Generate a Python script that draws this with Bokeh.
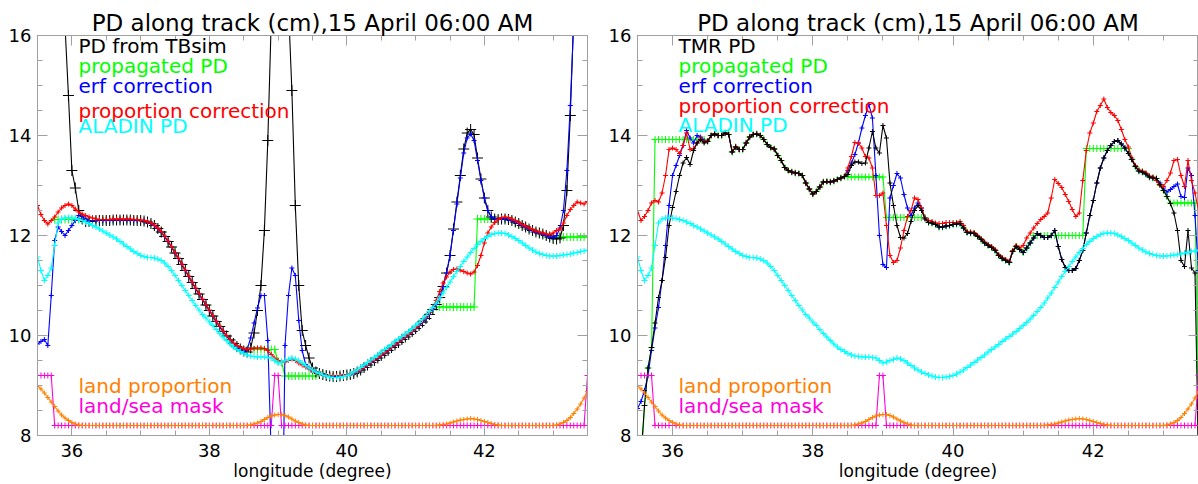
from bokeh.plotting import figure
from bokeh.models import Range1d, LinearAxis, FixedTicker, Label
from bokeh.layouts import row
from bokeh.embed import file_html
from bokeh.resources import INLINE

nan = float("nan")
# longitude samples (degree)
lon = [round(35.5 + 0.05 * i, 2) for i in range(161)]

x_ticks = [36, 38, 40, 42]
x_minor = [35.5, 36.0, 36.5, 37.0, 37.5, 38.0, 38.5, 39.0, 39.5, 40.0, 40.5, 41.0, 41.5, 42.0, 42.5, 43.0, 43.5]
y_ticks = [8, 10, 12, 14, 16]
y_minor = [8.0, 8.5, 9.0, 9.5, 10.0, 10.5, 11.0, 11.5, 12.0, 12.5, 13.0, 13.5, 14.0, 14.5, 15.0, 15.5, 16.0]

title_text = "PD along track (cm),15 April 06:00 AM"
xlabel_text = "longitude (degree)"

# ---- shared series ----
aladin_pd = [
    11.57, 11.30, 11.10, 11.20, 11.35, 11.80, 12.25, 12.33, 12.35, 12.36,
    12.35, 12.34, 12.32, 12.30, 12.27, 12.24, 12.20, 12.17, 12.13, 12.09,
    12.05, 12.01, 11.97, 11.93, 11.88, 11.83, 11.78, 11.73, 11.68, 11.64,
    11.60, 11.58, 11.56, 11.56, 11.55, 11.53, 11.50, 11.45, 11.38, 11.30,
    11.20, 11.10, 11.00, 10.90, 10.80, 10.70, 10.60, 10.51, 10.42, 10.35,
    10.27, 10.20, 10.12, 10.04, 9.97, 9.90, 9.83, 9.77, 9.72, 9.68,
    9.64, 9.61, 9.59, 9.58, 9.57, 9.57, 9.57, 9.56, 9.55, 9.50,
    9.45, 9.47, 9.50, 9.52, 9.55, 9.53, 9.50, 9.45, 9.40, 9.35,
    9.31, 9.27, 9.24, 9.21, 9.19, 9.17, 9.16, 9.16, 9.17, 9.18,
    9.20, 9.23, 9.27, 9.31, 9.36, 9.41, 9.46, 9.51, 9.56, 9.61,
    9.67, 9.72, 9.77, 9.82, 9.88, 9.93, 9.98, 10.03, 10.08, 10.14,
    10.20, 10.26, 10.33, 10.40, 10.48, 10.56, 10.65, 10.75, 10.85, 10.96,
    11.07, 11.18, 11.28, 11.38, 11.48, 11.57, 11.66, 11.74, 11.82, 11.88,
    11.94, 11.98, 12.02, 12.04, 12.05, 12.05, 12.04, 12.01, 11.98, 11.94,
    11.90, 11.85, 11.80, 11.75, 11.71, 11.67, 11.64, 11.62, 11.60, 11.59,
    11.59, 11.59, 11.60, 11.61, 11.62, 11.63, 11.65, 11.66, 11.68, 11.69,
    11.71]

land_proportion = [
    9.00, 8.93, 8.85, 8.76, 8.67, 8.58, 8.49, 8.41, 8.35, 8.30,
    8.26, 8.23, 8.21, 8.20, 8.20, 8.20, 8.20, 8.20, 8.20, 8.20,
    8.20, 8.20, 8.20, 8.20, 8.20, 8.20, 8.20, 8.20, 8.20, 8.20,
    8.20, 8.20, 8.20, 8.20, 8.20, 8.20, 8.20, 8.20, 8.20, 8.20,
    8.20, 8.20, 8.20, 8.20, 8.20, 8.20, 8.20, 8.20, 8.20, 8.20,
    8.20, 8.20, 8.20, 8.20, 8.20, 8.20, 8.20, 8.20, 8.20, 8.20,
    8.20, 8.20, 8.21, 8.23, 8.25, 8.28, 8.32, 8.36, 8.39, 8.41,
    8.42, 8.42, 8.40, 8.37, 8.33, 8.29, 8.26, 8.23, 8.21, 8.20,
    8.20, 8.20, 8.20, 8.20, 8.20, 8.20, 8.20, 8.20, 8.20, 8.20,
    8.20, 8.20, 8.20, 8.20, 8.20, 8.20, 8.20, 8.20, 8.20, 8.20,
    8.20, 8.20, 8.20, 8.20, 8.20, 8.20, 8.20, 8.20, 8.20, 8.20,
    8.20, 8.20, 8.20, 8.20, 8.20, 8.20, 8.20, 8.21, 8.22, 8.23,
    8.25, 8.27, 8.29, 8.31, 8.32, 8.33, 8.34, 8.33, 8.32, 8.30,
    8.28, 8.26, 8.24, 8.22, 8.21, 8.20, 8.20, 8.20, 8.20, 8.20,
    8.20, 8.20, 8.20, 8.20, 8.20, 8.20, 8.20, 8.20, 8.20, 8.20,
    8.20, 8.21, 8.23, 8.26, 8.30, 8.36, 8.44, 8.53, 8.63, 8.75,
    8.88]

land_sea_mask = [
    9.2, 9.2, 9.2, 9.2, 9.2, 8.2, 8.2, 8.2, 8.2, 8.2,
    8.2, 8.2, 8.2, 8.2, 8.2, 8.2, 8.2, 8.2, 8.2, 8.2,
    8.2, 8.2, 8.2, 8.2, 8.2, 8.2, 8.2, 8.2, 8.2, 8.2,
    8.2, 8.2, 8.2, 8.2, 8.2, 8.2, 8.2, 8.2, 8.2, 8.2,
    8.2, 8.2, 8.2, 8.2, 8.2, 8.2, 8.2, 8.2, 8.2, 8.2,
    8.2, 8.2, 8.2, 8.2, 8.2, 8.2, 8.2, 8.2, 8.2, 8.2,
    8.2, 8.2, 8.2, 8.2, 8.2, 8.2, 8.2, 8.2, 8.2, 9.2,
    9.2, 8.2, 8.2, 8.2, 8.2, 8.2, 8.2, 8.2, 8.2, 8.2,
    8.2, 8.2, 8.2, 8.2, 8.2, 8.2, 8.2, 8.2, 8.2, 8.2,
    8.2, 8.2, 8.2, 8.2, 8.2, 8.2, 8.2, 8.2, 8.2, 8.2,
    8.2, 8.2, 8.2, 8.2, 8.2, 8.2, 8.2, 8.2, 8.2, 8.2,
    8.2, 8.2, 8.2, 8.2, 8.2, 8.2, 8.2, 8.2, 8.2, 8.2,
    8.2, 8.2, 8.2, 8.2, 8.2, 8.2, 8.2, 8.2, 8.2, 8.2,
    8.2, 8.2, 8.2, 8.2, 8.2, 8.2, 8.2, 8.2, 8.2, 8.2,
    8.2, 8.2, 8.2, 8.2, 8.2, 8.2, 8.2, 8.2, 8.2, 8.2,
    8.2, 8.2, 8.2, 8.2, 8.2, 8.2, 8.2, 8.2, 8.2, 8.2,
    9.2]

# ---- left panel ----
pd_tbsim = [
    30.0, 28.0, 26.0, 24.0, 22.0, 20.0, 18.8, 17.4, 16.2, 14.8,
    13.3, 12.95, 12.5, 12.33, 12.28, 12.28, 12.29, 12.3, 12.3, 12.3,
    12.3, 12.3, 12.31, 12.31, 12.31, 12.31, 12.31, 12.31, 12.3, 12.3,
    12.3, 12.29, 12.27, 12.24, 12.2, 12.14, 12.07, 11.98, 11.88, 11.77,
    11.65, 11.54, 11.42, 11.3, 11.18, 11.06, 10.94, 10.83, 10.72, 10.61,
    10.5, 10.39, 10.28, 10.18, 10.08, 9.99, 9.91, 9.84, 9.78, 9.73,
    9.69, 9.67, 9.75, 10.05, 10.5, 11.0, 12.1, 13.9, 16.3, 18.7,
    21.0, 21.0, 18.5, 16.6, 14.9, 12.6, 11.0, 10.1, 9.8, 9.55,
    9.35, 9.27, 9.24, 9.22, 9.2, 9.19, 9.18, 9.18, 9.19, 9.2,
    9.21, 9.22, 9.24, 9.27, 9.31, 9.36, 9.41, 9.46, 9.5, 9.55,
    9.6, 9.65, 9.7, 9.76, 9.81, 9.86, 9.92, 9.97, 10.02, 10.08,
    10.14, 10.2, 10.27, 10.34, 10.42, 10.52, 10.62, 10.76, 10.98, 11.25,
    11.6, 12.13, 12.67, 13.2, 13.73, 14.05, 14.12, 14.02, 13.55, 13.13,
    12.75, 12.5, 12.37, 12.33, 12.32, 12.33, 12.33, 12.32, 12.3, 12.27,
    12.24, 12.2, 12.17, 12.13, 12.1, 12.07, 12.05, 12.03, 12.0, 11.97,
    11.94, 11.93, 11.95, 12.2, 12.9, 14.4, 16.4, 19.0, 22.0, 25.0,
    28.0]

prop_left = [
    nan, nan, nan, nan, nan, 12.32, 12.32, 12.32, 12.32, 12.32,
    12.32, 12.32, 12.32, 12.32, 12.28, 12.28, 12.29, 12.3, 12.3, 12.3,
    12.3, 12.3, 12.31, 12.31, 12.31, 12.31, 12.31, 12.31, 12.3, 12.3,
    12.3, 12.29, 12.27, 12.24, 12.2, 12.14, 12.07, 11.98, 11.88, 11.77,
    11.65, 11.54, 11.42, 11.3, 11.18, 11.06, 10.94, 10.83, 10.72, 10.61,
    10.5, 10.39, 10.28, 10.18, 10.08, 9.99, 9.91, 9.84, 9.78, 9.73,
    9.69, 9.72, 9.72, 9.72, 9.72, 9.72, 9.72, 9.72, 9.72, 9.72,
    9.48, 9.46, 9.19, 9.19, 9.19, 9.19, 9.19, 9.19, 9.19, 9.19,
    9.19, 9.19, 9.24, 9.22, 9.2, 9.19, 9.18, 9.18, 9.19, 9.2,
    9.21, 9.22, 9.24, 9.27, 9.31, 9.36, 9.41, 9.46, 9.5, 9.55,
    9.6, 9.65, 9.7, 9.76, 9.81, 9.86, 9.92, 9.97, 10.02, 10.08,
    10.14, 10.2, 10.27, 10.34, 10.42, 10.52, 10.57, 10.57, 10.57, 10.57,
    10.57, 10.57, 10.57, 10.57, 10.57, 10.57, 10.57, 10.57, 12.33, 12.33,
    12.33, 12.33, 12.33, 12.33, 12.32, 12.33, 12.33, 12.32, 12.3, 12.27,
    12.24, 12.2, 12.17, 12.13, 12.1, 12.07, 12.05, 12.03, 12.0, 11.97,
    11.94, 11.97, 11.97, 11.97, 11.97, 11.97, 11.97, 11.97, 11.97, 11.97,
    11.97]

erf_left = [
    9.83, 9.88, 9.92, 9.8, 10.8, 11.9, 12.17, 12.08, 12.0, 12.1,
    12.2, 12.3, 12.4, 12.38, 12.33, 12.3, 12.3, 12.3, 12.3, 12.3,
    12.3, 12.3, 12.31, 12.31, 12.31, 12.31, 12.31, 12.31, 12.3, 12.3,
    12.3, 12.29, 12.27, 12.24, 12.2, 12.14, 12.07, 11.98, 11.88, 11.77,
    11.65, 11.54, 11.42, 11.3, 11.18, 11.06, 10.94, 10.83, 10.72, 10.61,
    10.5, 10.39, 10.28, 10.18, 10.08, 9.99, 9.91, 9.84, 9.78, 9.73,
    9.69, 9.72, 9.95, 10.25, 10.55, 10.8, 10.8, 9.9, 7.6, 4.0,
    3.0, 4.5, 9.8, 10.8, 11.35, 11.2, 10.3, 9.7, 9.42, 9.35,
    9.3, 9.27, 9.24, 9.22, 9.2, 9.19, 9.18, 9.18, 9.19, 9.2,
    9.21, 9.22, 9.24, 9.27, 9.31, 9.36, 9.41, 9.46, 9.5, 9.55,
    9.6, 9.65, 9.7, 9.76, 9.81, 9.86, 9.92, 9.97, 10.02, 10.08,
    10.14, 10.2, 10.27, 10.34, 10.42, 10.52, 10.62, 10.76, 10.98, 11.25,
    11.6, 12.1, 12.63, 13.15, 13.65, 13.95, 14.03, 13.9, 13.5, 13.1,
    12.75, 12.5, 12.37, 12.33, 12.32, 12.33, 12.33, 12.32, 12.3, 12.27,
    12.24, 12.2, 12.17, 12.13, 12.1, 12.07, 12.05, 12.03, 12.0, 11.97,
    11.96, 12.0, 12.15, 12.5, 13.3, 14.6, 16.3, 18.5, 21.0, 23.5,
    26.0]

propcorr_left = [
    12.6, 12.42, 12.3, 12.23, 12.3, 12.37, 12.47, 12.55, 12.6, 12.63,
    12.6, 12.53, 12.47, 12.43, 12.4, 12.37, 12.35, 12.33, 12.32, 12.32,
    12.32, 12.32, 12.33, 12.33, 12.33, 12.33, 12.33, 12.33, 12.32, 12.32,
    12.31, 12.3, 12.28, 12.25, 12.21, 12.15, 12.08, 11.99, 11.89, 11.78,
    11.66, 11.55, 11.43, 11.31, 11.19, 11.07, 10.95, 10.84, 10.73, 10.62,
    10.51, 10.4, 10.29, 10.19, 10.09, 10.0, 9.92, 9.85, 9.8, 9.76,
    9.73, 9.72, 9.73, 9.74, 9.75, 9.75, 9.74, 9.7, 9.62, 9.55,
    9.5, 9.48, 9.47, 9.5, 9.53, 9.5, 9.45, 9.41, 9.37, 9.33,
    9.29, 9.26, 9.23, 9.21, 9.2, 9.2, 9.2, 9.2, 9.2, 9.21,
    9.22, 9.23, 9.25, 9.28, 9.32, 9.37, 9.42, 9.47, 9.51, 9.56,
    9.61, 9.66, 9.71, 9.77, 9.82, 9.87, 9.93, 9.98, 10.03, 10.09,
    10.15, 10.21, 10.29, 10.37, 10.46, 10.56, 10.7, 10.88, 11.05, 11.17,
    11.27, 11.32, 11.33, 11.31, 11.28, 11.25, 11.23, 11.27, 11.4, 11.6,
    11.85, 12.05, 12.17, 12.26, 12.32, 12.36, 12.37, 12.36, 12.33, 12.3,
    12.26, 12.22, 12.19, 12.15, 12.12, 12.09, 12.07, 12.05, 12.03, 12.02,
    12.05, 12.1, 12.13, 12.25, 12.4, 12.52, 12.6, 12.67, 12.65, 12.63,
    12.68]

# ---- right panel ----
pd_tmr = [
    6.5, 7.6, 8.6, 9.35, 9.76, 10.25, 10.76, 11.1, 11.56, 12.2,
    12.56, 12.88, 13.2, 13.45, 13.56, 13.42, 13.7, 13.85, 13.92, 13.85,
    13.88, 14.0, 14.03, 14.0, 14.0, 14.05, 14.02, 13.67, 13.77, 13.72,
    13.72, 13.85, 13.97, 14.02, 14.03, 14.0, 13.92, 13.82, 13.76, 13.73,
    13.6, 13.5, 13.36, 13.3, 13.27, 13.25, 13.24, 13.2, 13.05, 12.93,
    12.83, 12.88, 12.97, 13.07, 13.08, 13.07, 13.09, 13.12, 13.15, 13.18,
    13.22, 13.4, 13.47, 13.47, 13.44, 13.45, 13.75, 14.08, 13.75, 13.65,
    14.2, 13.95, 13.05, 12.6, 12.2, 11.96, 11.95, 12.04, 12.28, 12.5,
    12.6, 12.5, 12.33, 12.26, 12.25, 12.22, 12.17, 12.17, 12.19, 12.2,
    12.22, 12.23, 12.24, 12.15, 12.06, 12.05, 12.04, 11.98, 11.92, 11.85,
    11.8, 11.76, 11.7, 11.6, 11.54, 11.5, 11.46, 11.68, 11.78, 11.72,
    11.66, 11.75, 11.85, 11.95, 12.04, 12.0, 11.96, 11.96, 12.0, 12.1,
    11.78, 11.52, 11.36, 11.3, 11.3, 11.34, 11.5, 11.7, 12.05, 12.4,
    12.7, 13.05, 13.35, 13.55, 13.7, 13.8, 13.88, 13.9, 13.83, 13.75,
    13.64, 13.52, 13.38, 13.29, 13.27, 13.23, 13.17, 13.15, 13.14, 13.02,
    12.9, 12.78, 12.64, 12.45, 12.1, 11.5, 11.38, 12.1, 11.35, 11.25,
    7.5]

prop_right = [
    5.5, 7.3, 8.6, 9.35, 9.76, 13.92, 13.92, 13.92, 13.92, 13.92,
    13.92, 13.92, 13.92, 13.92, 13.92, 13.92, 13.92, 13.92, 13.92, 13.92,
    13.88, 14.0, 14.03, 14.0, 14.0, 14.05, 14.02, 13.67, 13.77, 13.72,
    13.72, 13.85, 13.97, 14.02, 14.03, 14.0, 13.92, 13.82, 13.76, 13.73,
    13.6, 13.5, 13.36, 13.3, 13.27, 13.25, 13.24, 13.2, 13.05, 12.93,
    12.83, 12.88, 12.97, 13.07, 13.08, 13.07, 13.09, 13.12, 13.15, 13.18,
    13.17, 13.17, 13.17, 13.17, 13.17, 13.17, 13.17, 13.17, 13.17, 13.17,
    13.17, 12.36, 12.36, 12.36, 12.36, 12.36, 12.36, 12.36, 12.36, 12.36,
    12.36, 12.36, 12.36, 12.26, 12.25, 12.22, 12.17, 12.17, 12.19, 12.2,
    12.22, 12.23, 12.24, 12.15, 12.06, 12.05, 12.04, 11.98, 11.92, 11.85,
    11.8, 11.76, 11.7, 11.6, 11.54, 11.5, 11.46, 11.68, 11.78, 11.72,
    11.66, 11.75, 11.85, 12.0, 12.0, 12.0, 12.0, 12.0, 12.0, 12.0,
    12.0, 12.0, 12.0, 12.0, 12.0, 12.0, 12.0, 12.0, 13.74, 13.74,
    13.74, 13.74, 13.74, 13.74, 13.74, 13.74, 13.74, 13.74, 13.74, 13.74,
    13.74, 13.52, 13.38, 13.29, 13.27, 13.23, 13.17, 13.15, 13.14, 13.02,
    12.9, 12.78, 12.65, 12.65, 12.65, 12.65, 12.65, 12.65, 12.65, 12.65,
    8.5]

erf_right = [
    8.54, 8.68, 8.9, 9.2, 9.7, 10.15, 10.56, 11.1, 11.8, 12.6,
    13.2, 13.4, 13.6, 13.8, 14.1, 13.95, 13.85, 14.0, 13.97, 13.9,
    13.88, 14.0, 14.03, 14.0, 14.0, 14.05, 14.02, 13.67, 13.77, 13.72,
    13.72, 13.85, 13.97, 14.02, 14.03, 14.0, 13.92, 13.82, 13.76, 13.73,
    13.6, 13.5, 13.36, 13.3, 13.27, 13.25, 13.24, 13.2, 13.05, 12.93,
    12.83, 12.88, 12.97, 13.07, 13.08, 13.07, 13.09, 13.12, 13.15, 13.18,
    13.3, 13.45, 13.62, 13.85, 14.15, 14.4, 14.62, 14.35, 13.2, 12.0,
    11.42, 11.36, 12.75, 13.0, 13.24, 13.15, 12.82, 12.55, 12.4, 12.55,
    12.65, 12.55, 12.35, 12.26, 12.25, 12.22, 12.17, 12.17, 12.19, 12.2,
    12.22, 12.23, 12.24, 12.15, 12.06, 12.05, 12.04, 11.98, 11.92, 11.85,
    11.8, 11.76, 11.7, 11.6, 11.54, 11.5, 11.46, 11.68, 11.78, 11.72,
    11.66, 11.75, 11.85, 11.95, 12.04, 12.0, 11.96, 11.96, 12.0, 12.1,
    11.78, 11.52, 11.36, 11.3, 11.3, 11.34, 11.5, 11.7, 12.05, 12.4,
    12.7, 13.05, 13.35, 13.55, 13.7, 13.8, 13.88, 13.9, 13.83, 13.75,
    13.64, 13.52, 13.38, 13.29, 13.27, 13.23, 13.17, 13.15, 13.14, 13.05,
    12.95, 12.87, 12.92, 12.98, 13.03, 12.78, 12.76, 13.35, 13.2, 12.4,
    11.3]

propcorr_right = [
    12.5, 12.3, 12.38, 12.5, 12.65, 12.7, 12.67, 12.85, 13.2, 13.72,
    13.75, 13.72, 13.64, 13.8, 14.05, 13.72, 13.74, 13.85, 13.95, 13.87,
    13.9, 14.0, 14.03, 14.0, 14.0, 14.05, 14.02, 13.68, 13.78, 13.72,
    13.72, 13.85, 13.97, 14.02, 14.03, 14.0, 13.92, 13.82, 13.76, 13.73,
    13.6, 13.5, 13.36, 13.3, 13.27, 13.25, 13.24, 13.2, 13.05, 12.93,
    12.83, 12.88, 12.97, 13.07, 13.08, 13.07, 13.09, 13.12, 13.15, 13.18,
    13.35, 13.58, 13.86, 13.85, 13.75, 13.58, 13.55, 13.35, 12.8, 12.8,
    12.85, 12.2, 11.6, 11.46, 11.5, 11.75, 12.1, 12.38, 12.5, 12.75,
    12.72, 12.55, 12.35, 12.3, 12.28, 12.25, 12.24, 12.24, 12.26, 12.26,
    12.26, 12.26, 12.28, 12.2, 12.08, 12.07, 12.06, 12.0, 11.94, 11.87,
    11.82, 11.78, 11.72, 11.62, 11.56, 11.52, 11.48, 11.7, 11.8, 11.75,
    11.8, 11.95, 12.05, 12.15, 12.24, 12.32, 12.38, 12.45, 12.75, 13.12,
    13.04, 12.96, 12.82, 12.68, 12.52, 12.38, 12.45, 13.1, 13.7, 14.05,
    14.25, 14.48, 14.6, 14.73, 14.56, 14.46, 14.4, 14.3, 14.12, 13.92,
    13.77, 13.55, 13.4, 13.31, 13.29, 13.25, 13.19, 13.17, 13.1, 13.0,
    12.98, 13.1, 13.25, 13.5, 13.52, 13.2, 12.98, 13.5, 13.1, 12.85,
    12.5]

for _name, _arr in [("aladin_pd", aladin_pd), ("land_proportion", land_proportion),
                    ("land_sea_mask", land_sea_mask), ("pd_tbsim", pd_tbsim),
                    ("prop_left", prop_left), ("erf_left", erf_left),
                    ("propcorr_left", propcorr_left), ("pd_tmr", pd_tmr),
                    ("prop_right", prop_right), ("erf_right", erf_right),
                    ("propcorr_right", propcorr_right)]:
    if len(_arr) != len(lon):
        raise SystemExit(f"{_name} has {len(_arr)} values, expected {len(lon)}")

FONT = "DejaVu Sans"
GRAY = "#a0a0a0"
BLACK, GREEN, BLUE, RED = "#000000", "#00ff00", "#0000ff", "#ff0000"
CYAN, ORANGE, MAGENTA = "#00ffff", "#ff8000", "#ff00dd"


def style_ticks(ax):
    ax.axis_line_color = GRAY
    ax.major_tick_line_color = GRAY
    ax.minor_tick_line_color = GRAY
    ax.major_tick_in = 10
    ax.major_tick_out = 0
    ax.minor_tick_in = 5
    ax.minor_tick_out = 0


def labelled_axis(ticks, minor, standoff):
    ax = LinearAxis(ticker=FixedTicker(ticks=ticks, minor_ticks=minor))
    style_ticks(ax)
    ax.major_label_text_font = FONT
    ax.major_label_text_font_size = "18px"
    ax.major_label_text_color = BLACK
    ax.major_label_standoff = standoff
    return ax


def mirror_axis(tick_positions, length):
    # unlabelled axis: positions are drawn as minor ticks, so no labels exist
    ax = LinearAxis(ticker=FixedTicker(ticks=[], minor_ticks=tick_positions))
    style_ticks(ax)
    ax.minor_tick_in = length
    ax.major_label_standoff = 0
    ax.axis_label_standoff = 0
    return ax


def make_fig(width, border_right):
    p = figure(width=width, height=484, x_range=Range1d(35.5, 43.5), y_range=Range1d(8, 16),
               output_backend="svg", toolbar_location=None,
               x_axis_location=None, y_axis_location=None,
               min_border_left=37, min_border_right=border_right,
               min_border_top=35, min_border_bottom=49,
               background_fill_color="white", border_fill_color="white",
               outline_line_color=GRAY)
    p.xgrid.visible = False
    p.ygrid.visible = False
    xb = labelled_axis(x_ticks, x_minor, 8)
    xb.axis_label = xlabel_text
    xb.axis_label_text_font = FONT
    xb.axis_label_text_font_size = "17px"
    xb.axis_label_text_font_style = "normal"
    xb.axis_label_text_color = BLACK
    xb.axis_label_standoff = 1
    p.add_layout(xb, "below")
    p.add_layout(labelled_axis(y_ticks, y_minor, 6), "left")
    p.add_layout(mirror_axis(x_minor, 5), "above")
    p.add_layout(mirror_axis(x_ticks, 10), "above")
    p.add_layout(mirror_axis(y_minor, 5), "right")
    p.add_layout(mirror_axis(y_ticks, 10), "right")
    p.title.text = title_text
    p.title.align = "center"
    p.title.text_font = FONT
    p.title.text_font_size = "23px"
    p.title.text_font_style = "normal"
    p.title.text_color = BLACK
    p.title.standoff = 0
    return p


def series(p, y, color, size, lw=1.1):
    p.line(lon, y, line_color=color, line_width=lw)
    p.scatter(lon, y, marker="cross", size=size, line_color=color, line_width=1)


def label(p, x, y, text, color, size, align="left"):
    p.add_layout(Label(x=x, y=y, x_units="screen", y_units="screen", text=text,
                       text_color=color, text_font=FONT, text_font_size=f"{size}px",
                       text_align=align, text_baseline="middle"))


# left panel
p1 = make_fig(600, 13)
series(p1, prop_left, GREEN, 8)
series(p1, pd_tbsim, BLACK, 11)
series(p1, erf_left, BLUE, 5)
series(p1, propcorr_left, RED, 5)
series(p1, aladin_pd, CYAN, 6)
series(p1, land_sea_mask, MAGENTA, 6)
series(p1, land_proportion, ORANGE, 5)
label(p1, 41, 390, "PD from TBsim", BLACK, 20)
label(p1, 41, 370, "propagated PD", GREEN, 20)
label(p1, 41, 350, "erf correction", BLUE, 20)
label(p1, 41, 325, "proportion correction", RED, 20)
label(p1, 41, 310, "ALADIN PD", CYAN, 20)
label(p1, 41, 50, "land proportion", ORANGE, 20)
label(p1, 41, 30, "land/sea mask", MAGENTA, 20)

# right panel
p2 = make_fig(598, 0)
series(p2, prop_right, GREEN, 7)
series(p2, erf_right, BLUE, 5)
series(p2, propcorr_right, RED, 5)
series(p2, pd_tmr, BLACK, 5)
series(p2, aladin_pd, CYAN, 6)
series(p2, land_sea_mask, MAGENTA, 6)
series(p2, land_proportion, ORANGE, 5)
label(p2, 41, 390, "TMR PD", BLACK, 20)
label(p2, 41, 370, "propagated PD", GREEN, 20)
label(p2, 41, 350, "erf correction", BLUE, 20)
label(p2, 41, 330, "proportion correction", RED, 20)
label(p2, 41, 311, "ALADIN PD", CYAN, 20)
label(p2, 41, 50, "land proportion", ORANGE, 20)
label(p2, 41, 30, "land/sea mask", MAGENTA, 20)

layout = row(p1, p2)
open("out.html", "w").write(file_html(layout, INLINE))
